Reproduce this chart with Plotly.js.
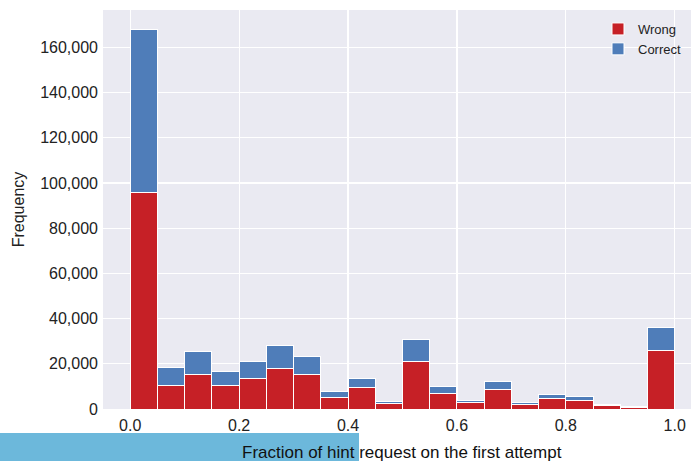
<!DOCTYPE html>
<html>
<head>
<meta charset="utf-8">
<script src="https://cdn.plot.ly/plotly-3.0.1.min.js"></script>
<style>html,body{margin:0;padding:0;background:#fff;overflow:hidden;}#chart{width:691px;height:461px;}</style>
</head>
<body>
<div id="chart"></div>
<script>
// Bin centres (bins of width 0.05 on [0, 1])
var binCenters = [0.025, 0.075, 0.125, 0.175, 0.225, 0.275, 0.325, 0.375, 0.425, 0.475,
                  0.525, 0.575, 0.625, 0.675, 0.725, 0.775, 0.825, 0.875, 0.925, 0.975];
var binWidth = 0.05;
// Counts
var wrongCounts   = [95800, 10400, 15400, 10400, 13300, 18000, 15400, 5200, 9300, 2400,
                     21100, 7000, 2700, 8800, 1900, 4550, 3800, 1330, 500, 26100];
var correctCounts = [72000, 7850, 9930, 6400, 7600, 9900, 7650, 2760, 4400, 1100,
                     9700, 3000, 1150, 3580, 900, 1950, 1600, 740, 500, 9850];
var seriesNames = ["Wrong", "Correct"];
var xTickVals = [0, 0.2, 0.4, 0.6, 0.8, 1.0];
var xTickText = ["0.0", "0.2", "0.4", "0.6", "0.8", "1.0"];
var yTickVals = [0, 20000, 40000, 60000, 80000, 100000, 120000, 140000, 160000];
var xTitle = "Fraction of hint request on the first attempt";
var yTitle = "Frequency";

var FONT = "Liberation Sans, Arial, Helvetica, sans-serif";
var W = 691, H = 461, ML = 103, MR = 0, MT = 10, MB = 52;
var plotW = W - ML - MR, plotH = H - MT - MB;
function px2paperX(p) { return (p - ML) / plotW; }
function px2paperY(p) { return (H - MB - p) / plotH; }

var traces = [
  {type: "bar", name: seriesNames[0], x: binCenters, y: wrongCounts, width: binWidth,
   marker: {color: "#C62026", line: {color: "#FFFFFF", width: 1}}, hoverinfo: "x+y+name"},
  {type: "bar", name: seriesNames[1], x: binCenters, y: correctCounts, width: binWidth,
   marker: {color: "#4F7DB9", line: {color: "#FFFFFF", width: 1}}, hoverinfo: "x+y+name"}
];

var layout = {
  width: W, height: H,
  margin: {l: ML, r: MR, t: MT, b: MB, pad: 0},
  paper_bgcolor: "#FFFFFF",
  plot_bgcolor: "#EAEAF2",
  barmode: "stack",
  bargap: 0,
  font: {family: FONT, size: 16, color: "#222222"},
  showlegend: true,
  legend: {x: px2paperX(598), xanchor: "left", y: px2paperY(14), yanchor: "top",
           traceorder: "normal", bgcolor: "rgba(0,0,0,0)", borderwidth: 0,
           font: {family: FONT, size: 13, color: "#222222"}, itemwidth: 30},
  xaxis: {range: [-0.05, -0.05 + plotW / 544.5], tickvals: xTickVals, ticktext: xTickText,
          showgrid: true, gridcolor: "#FFFFFF", gridwidth: 1.2, zeroline: false,
          showline: false, ticks: "", ticklabelstandoff: 5,
          tickfont: {family: FONT, size: 16, color: "#222222"},
          fixedrange: true},
  yaxis: {range: [0, 176500], tickvals: yTickVals, tickformat: ",d",
          showgrid: true, gridcolor: "#FFFFFF", gridwidth: 1.2, zeroline: false,
          showline: false, ticks: "", ticklabelstandoff: 4,
          tickfont: {family: FONT, size: 16, color: "#222222"},
          title: {text: yTitle, font: {family: FONT, size: 16, color: "#222222"}, standoff: 11},
          fixedrange: true},
  shapes: [
    {type: "rect", xref: "paper", yref: "paper", layer: "above",
     x0: px2paperX(0), x1: px2paperX(359), y0: px2paperY(461), y1: px2paperY(433),
     fillcolor: "#6CB8DB", line: {width: 0}}
  ],
  annotations: [
    {xref: "paper", yref: "paper", x: px2paperX(402), y: px2paperY(452), xanchor: "center",
     yanchor: "middle", showarrow: false, text: xTitle,
     font: {family: FONT, size: 17, color: "#111111"}}
  ]
};

Plotly.newPlot("chart", traces, layout, {displayModeBar: false, staticPlot: true});
</script>
</body>
</html>
